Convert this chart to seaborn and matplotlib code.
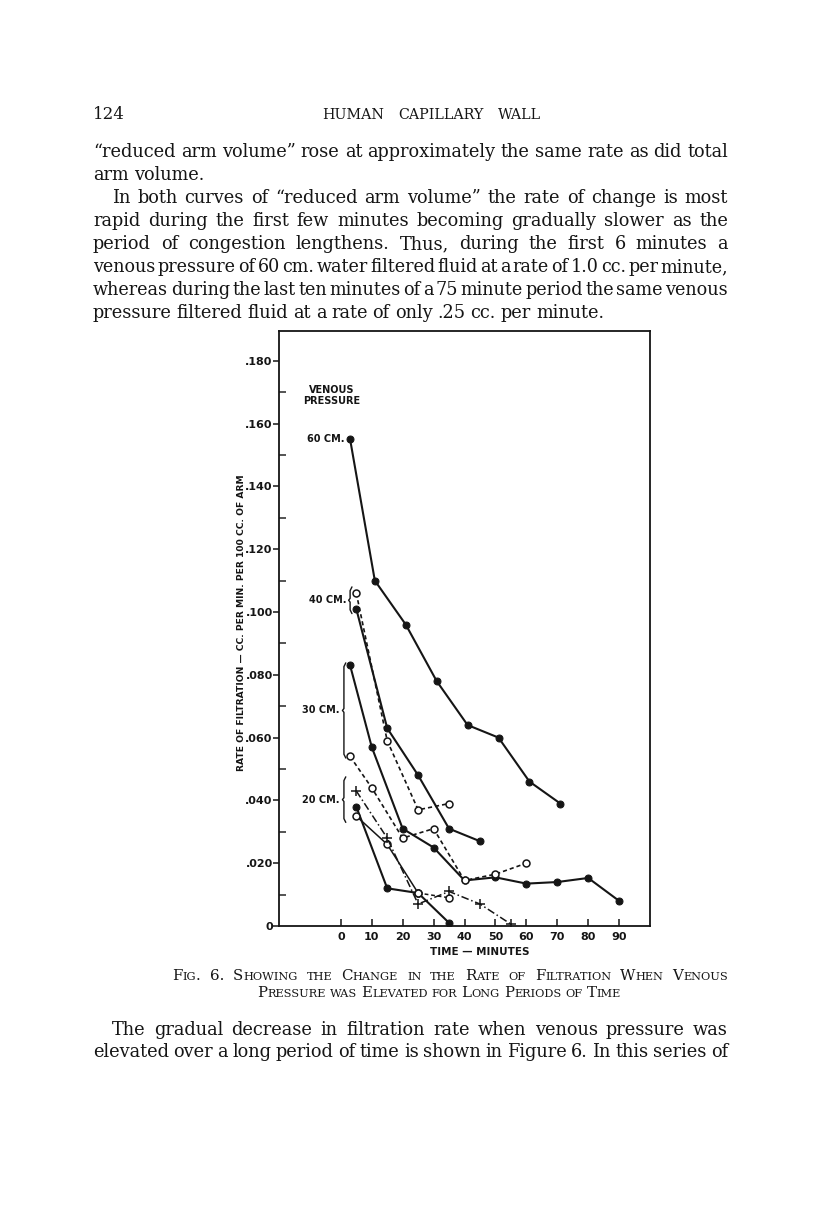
import numpy as np
import pandas as pd
import matplotlib
matplotlib.use("Agg")
import matplotlib.pyplot as plt
from matplotlib import font_manager
import seaborn as sns

# --------------------------------------------------------------
# Data (time in minutes, filtration in cc/min/100cc arm)
# --------------------------------------------------------------
t_60 = [3, 11, 21, 31, 41, 51, 61, 71]
r_60 = [0.155, 0.110, 0.096, 0.078, 0.064, 0.060, 0.046, 0.039]

t_40a = [5, 15, 25, 35, 45]
r_40a = [0.101, 0.063, 0.048, 0.031, 0.027]
t_40b = [5, 15, 25, 35]
r_40b = [0.106, 0.059, 0.037, 0.039]

t_30a = [3, 10, 20, 30, 40, 50, 60, 70, 80, 90]
r_30a = [0.083, 0.057, 0.031, 0.025, 0.0145, 0.0155, 0.0135, 0.014, 0.0153, 0.008]
t_30b = [3, 10, 20, 30, 40, 50, 60]
r_30b = [0.054, 0.044, 0.028, 0.031, 0.0145, 0.0165, 0.020]

t_20a = [5, 15, 25, 35]
r_20a = [0.038, 0.012, 0.0105, 0.001]
t_20b = [5, 15, 25, 35]
r_20b = [0.035, 0.026, 0.0105, 0.009]
t_20c = [5, 15, 25, 35, 45, 55]
r_20c = [0.043, 0.028, 0.007, 0.011, 0.007, 0.0006]

y_ticks = [0, 0.02, 0.04, 0.06, 0.08, 0.10, 0.12, 0.14, 0.16, 0.18]
y_labels = ["0", ".020", ".040", ".060", ".080", ".100", ".120", ".140", ".160", ".180"]
x_ticks = [0, 10, 20, 30, 40, 50, 60, 70, 80, 90]

# pressure groups: label, bracket low, bracket high
groups = [("40 CM.", 0.0995, 0.108), ("30 CM.", 0.0535, 0.0838), ("20 CM.", 0.033, 0.0475)]

para1 = [
    "\u201creduced arm volume\u201d rose at approximately the same rate as did total",
    "arm volume.",
    "In both curves of \u201creduced arm volume\u201d the rate of change is most",
    "rapid during the first few minutes becoming gradually slower as the",
    "period of congestion lengthens.  Thus, during the first 6 minutes a",
    "venous pressure of 60 cm. water filtered fluid at a rate of 1.0 cc. per minute,",
    "whereas during the last ten minutes of a 75 minute period the same venous",
    "pressure filtered fluid at a rate of only .25 cc. per minute.",
]
para2 = [
    "The gradual decrease in filtration rate when venous pressure was",
    "elevated over a long period of time is shown in Figure 6.   In this series of",
]
caption = [
    "Fig. 6.  Showing the Change in the Rate of Filtration When Venous",
    "Pressure was Elevated for Long Periods of Time",
]

# --------------------------------------------------------------
# Figure set-up
# --------------------------------------------------------------
sns.set_style("ticks")
names = {f.name for f in font_manager.fontManager.ttflist}
label_font = "Liberation Sans Narrow" if "Liberation Sans Narrow" in names else "DejaVu Sans"
serif = "DejaVu Serif"
plt.rcParams["font.family"] = ["DejaVu Sans"]

W, H = 816, 1207
fig = plt.figure(figsize=(W / 100, H / 100), dpi=100)
ink = "#151515"


def fx(x):
    return x / W


def fy(y):
    return 1 - y / H


ax = fig.add_axes([fx(279), fy(926), (650 - 279) / W, (926 - 331) / H])

# --------------------------------------------------------------
# Curves
# --------------------------------------------------------------
filled = dict(marker="o", markersize=5, markerfacecolor=ink, markeredgecolor=ink)
hollow = dict(marker="o", markersize=5, markerfacecolor="white", markeredgecolor=ink,
              markeredgewidth=1.1)
cross = dict(marker="+", markersize=7, markeredgewidth=1.1, markeredgecolor=ink)

sns.lineplot(x=t_60, y=r_60, ax=ax, color=ink, linewidth=1.5, **filled)
sns.lineplot(x=t_40a, y=r_40a, ax=ax, color=ink, linewidth=1.5, **filled)
sns.lineplot(x=t_40b, y=r_40b, ax=ax, color=ink, linewidth=1.2, dashes=(2.5, 1.8), **hollow)
sns.lineplot(x=t_30a, y=r_30a, ax=ax, color=ink, linewidth=1.5, **filled)
sns.lineplot(x=t_30b, y=r_30b, ax=ax, color=ink, linewidth=1.2, dashes=(2.5, 1.8), **hollow)
sns.lineplot(x=t_20a, y=r_20a, ax=ax, color=ink, linewidth=1.5, **filled)
sns.lineplot(x=t_20b[:3], y=r_20b[:3], ax=ax, color=ink, linewidth=1.1, **hollow)
sns.lineplot(x=t_20b[2:], y=r_20b[2:], ax=ax, color=ink, linewidth=1.1, dashes=(2.5, 1.8), **hollow)
sns.lineplot(x=t_20c, y=r_20c, ax=ax, color=ink, linewidth=1.1, dashes=(5, 1.8, 1, 1.8), **cross)

ax.set_xlim(-20, 100)
ax.set_ylim(0, 0.1895)
ax.set_xticks(x_ticks)
ax.set_xticklabels([str(v) for v in x_ticks])
ax.set_yticks(y_ticks)
ax.set_yticklabels(y_labels)
ax.set_yticks(np.arange(0.01, 0.19, 0.02), minor=True)
ax.tick_params(axis="y", which="major", direction="out", length=4, width=1.1, pad=0.5,
               labelsize=8, colors=ink)
ax.tick_params(axis="y", which="minor", direction="in", length=5, width=1.1)
ax.tick_params(axis="x", which="major", direction="in", length=5, width=1.1, pad=4,
               labelsize=8, colors=ink)
for lab in ax.get_xticklabels() + ax.get_yticklabels():
    lab.set_fontweight("bold")
    lab.set_family(label_font)
for s in ax.spines.values():
    s.set_visible(True)
    s.set_linewidth(1.3)
    s.set_color(ink)
ax.set_xlabel("")
ax.set_ylabel("")

ax.text(45, -0.0068, "TIME \u2014 MINUTES", ha="center", va="top", fontsize=7.5,
        fontweight="bold", family=label_font, color=ink)
fig.text(fx(242), fy(623), "RATE OF FILTRATION \u2014 CC. PER MIN. PER 100 CC. OF ARM",
         rotation=90, ha="center", va="center", fontsize=6.6, fontweight="bold",
         family=label_font, color=ink)

# venous pressure labels
ax.text(-3, 0.169, "VENOUS\nPRESSURE", ha="center", va="center", fontsize=7,
        fontweight="bold", family=label_font, color=ink, linespacing=1.1)
ax.text(1.2, r_60[0], "60 CM.", ha="right", va="center", fontsize=7,
        fontweight="bold", family=label_font, color=ink)

for name, lo, hi in groups:
    mid = (lo + hi) / 2
    xb = 1.0 if name != "40 CM." else 3.0
    hook = 0.6
    ax.plot([xb + hook, xb, xb, xb - hook * 0.8, xb, xb, xb + hook],
            [hi, hi - 0.0012, mid + 0.0006, mid, mid - 0.0006, lo + 0.0012, lo],
            color=ink, linewidth=1.0)
    ax.text(xb - 1.3, mid, name, ha="right", va="center", fontsize=7,
            fontweight="bold", family=label_font, color=ink)

# --------------------------------------------------------------
# Page text (typeset line by line)
# --------------------------------------------------------------
renderer = fig.canvas.get_renderer()


def runs_for(word, size, smallcaps):
    if not smallcaps:
        return [(word, size)]
    runs = []
    for ch in word:
        low = ch.islower()
        s = size * 0.76 if low else size
        c = ch.upper()
        if runs and runs[-1][1] == s:
            runs[-1] = (runs[-1][0] + c, s)
        else:
            runs.append((c, s))
    return runs


def put_line(text, y, x0, x1=None, size=12.8, smallcaps=False, align="justify",
             family=serif, weight="normal"):
    words = text.split()
    placed = []
    widths = []
    for w in words:
        arts = []
        wsum = 0
        for chunk, s in runs_for(w, size, smallcaps):
            t = fig.text(0, 0, chunk, fontsize=s, family=family, fontweight=weight,
                         va="baseline", ha="left", color=ink)
            cw = t.get_window_extent(renderer).width
            arts.append((t, wsum))
            wsum += cw
        placed.append(arts)
        widths.append(wsum)
    gap = size * 100 / 72 * 0.28
    total = sum(widths)
    if align == "justify" and len(words) > 1:
        gap = (x1 - x0 - total) / (len(words) - 1)
        if gap < 2.5:
            # squeeze the line a little if it overflows
            k = (x1 - x0 - 2.5 * (len(words) - 1)) / total
            for arts in placed:
                for t, off in arts:
                    t.set_fontsize(t.get_fontsize() * k)
            widths = [w * k for w in widths]
            placed = [[(t, off * k) for t, off in arts] for arts in placed]
            gap = 2.5
    elif align == "center":
        x0 = (x0 + x1) / 2 - (total + gap * (len(words) - 1)) / 2
    x = x0
    for arts, wsum in zip(placed, widths):
        for t, off in arts:
            t.set_position((fx(x + off), fy(y)))
        x += wsum + gap


L, R = 93, 728
put_line("124", 119, L, size=12, align="left")
put_line("HUMAN CAPILLARY WALL", 119, 322, 541, size=10.3, align="justify")

ys = [157, 180, 203, 226, 249, 272, 295, 318]
for i, (line, y) in enumerate(zip(para1, ys)):
    start = L + 19 if i == 2 else L
    last = i in (1, 7)
    put_line(line, y, start, R, align="left" if last else "justify")

put_line(caption[0], 980, 172, R, size=10.8, smallcaps=True)
put_line(caption[1], 997, 231, 647, size=10.8, smallcaps=True, align="center")

put_line(para2[0], 1035, L + 19, R)
put_line(para2[1], 1057, L, R)

fig.savefig("out.png", dpi=100, facecolor="white")
